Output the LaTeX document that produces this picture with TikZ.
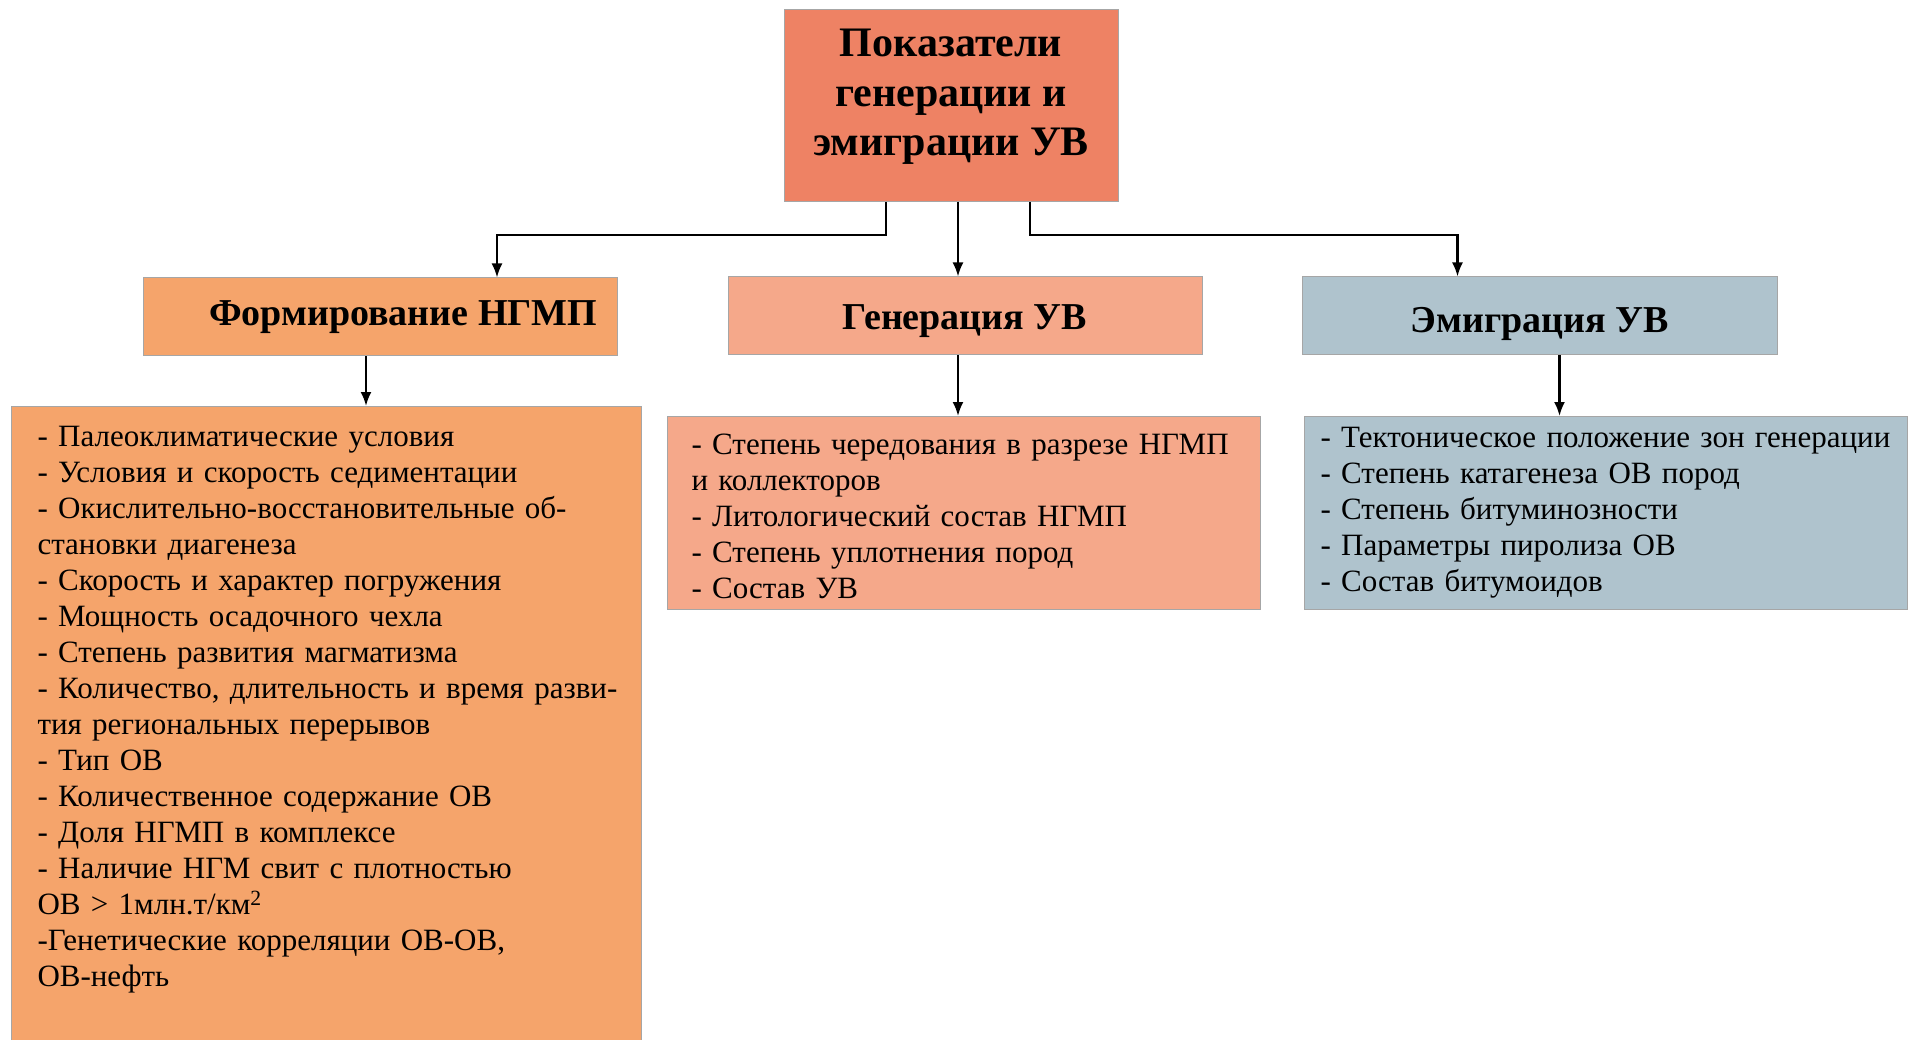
\documentclass[tikz,border=0pt]{standalone}
\usepackage{fontspec}
\setmainfont{Liberation Serif}
\usepackage{xcolor}
\usepackage{tikz}
\usetikzlibrary{arrows.meta,positioning}
\definecolor{topred}{RGB}{238,130,100}
\definecolor{formorange}{RGB}{245,164,107}
\definecolor{genpink}{RGB}{245,168,138}
\definecolor{emigblue}{RGB}{175,195,205}

\begin{document}
\begin{tikzpicture}[x=1pt, y=1pt, every node/.style={inner sep=0pt, font=\fontsize{31}{36}\selectfont}]
\tikzstyle{box}=[draw=gray!70, line width=1pt, align=center]
\tikzstyle{head}=[box, minimum width=474pt, minimum height=78pt, font=\fontsize{38}{44}\selectfont\bfseries]
\tikzstyle{list}=[box, anchor=north west, align=left]
\tikzstyle{arr}=[-{Latex[length=14pt,width=11pt]}, line width=2.2pt]
\useasboundingbox (0,0) rectangle (1911,-1040);

\node[box, fill=topred, minimum width=334pt, minimum height=192pt, text depth=26pt, font=\fontsize{42}{49.5}\selectfont\bfseries] (top) at (951,-105.5) {Показатели\\генерации и\\эмиграции УВ};

\node[head, fill=formorange] (form) at (380,-317) {\hspace*{46pt}Формирование НГМП};
\node[head, fill=genpink, text height=35pt] (gen) at (965,-316) {Генерация УВ};
\node[head, fill=emigblue, minimum width=475pt, text height=42pt] (emig) at (1539.5,-316) {Эмиграция УВ};

\node[list, fill=formorange, text width=578pt, inner xsep=26pt, inner ysep=20pt, text depth=620pt] (formlist) at (11,-406) {%
- Палеоклиматические условия\\
- Условия и скорость седиментации\\
- Окислительно-восстановительные об-\\
становки диагенеза\\
- Скорость и характер погружения\\
- Мощность осадочного чехла\\
- Степень развития магматизма\\
\mbox{- Количество, длительность и время разви-}\\
тия региональных перерывов\\
- Тип ОВ\\
- Количественное содержание ОВ\\
- Доля НГМП в комплексе\\
- Наличие НГМ свит с плотностью\\
ОВ > 1млн.т/км\textsuperscript{2}\\
-Генетические корреляции ОВ-ОВ,\\
ОВ-нефть};
\node[list, fill=genpink, text width=545pt, inner xsep=24pt, minimum height=193pt, text height=28pt] (genlist) at (667,-416) {%
\mbox{- Степень чередования в разрезе НГМП}\\
и коллекторов\\
- Литологический состав НГМП\\
- Степень уплотнения пород\\
- Состав УВ};
\node[list, fill=emigblue, text width=571pt, inner xsep=16pt, minimum height=193pt] (emiglist) at (1304,-416) {%
\mbox{- Тектоническое положение зон генерации}\\
- Степень катагенеза ОВ пород\\
- Степень битуминозности\\
- Параметры пиролиза ОВ\\
- Состав битумоидов};

% top box to the three groups
\draw[arr] ([xshift=-65pt]top.south) -- ++(0,-33) -| ([xshift=117pt]form.north);
\draw[arr] ([xshift=7pt]top.south) -- ([xshift=-7pt]gen.north);
\draw[arr] ([xshift=79pt]top.south) -- ++(0,-33) -| ([xshift=-82pt]emig.north);
% groups to their lists
\draw[arr] ([xshift=-14pt]form.south) -- ([xshift=-14pt]form.south |- formlist.north);
\draw[arr] ([xshift=-7pt]gen.south) -- ([xshift=-7pt]gen.south |- genlist.north);
\draw[arr] ([xshift=20pt]emig.south) -- ([xshift=20pt]emig.south |- emiglist.north);
\end{tikzpicture}
\end{document}
